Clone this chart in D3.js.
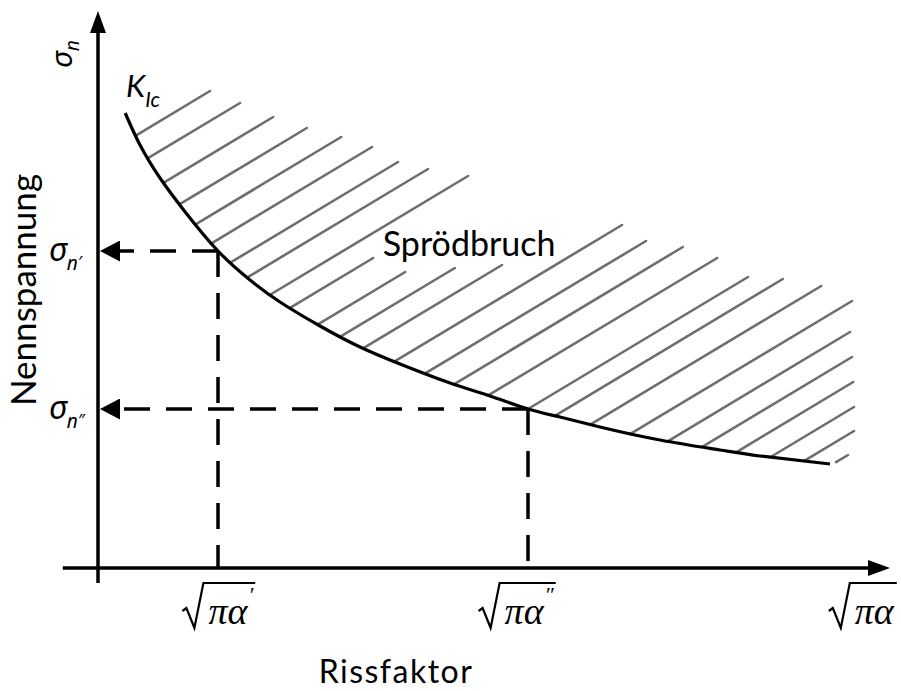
<!DOCTYPE html>
<html lang="de">
<head>
<meta charset="UTF-8">
<title>Sprödbruch – Nennspannung und Rissfaktor</title>
<style>
    body { margin: 0; background: #fff; }
    svg { display: block; }
    .lbl { font-family: Lato, "Open Sans", sans-serif; fill: #000; }
    .greek { font-family: "Noto Sans", "DejaVu Sans", sans-serif; font-style: italic; fill: #000; }
    .math { font-family: "Liberation Serif", "DejaVu Serif", serif; font-style: italic; fill: #000; }
</style>
</head>
<body>
<svg id="chart" width="901" height="691"></svg>

<script src="https://d3js.org/d3.v7.min.js"></script>
<script>
    // K_Ic curve (x = sqrt(pi a), y = sigma_n, arbitrary units)
    const curveX = [3.4, 5.25, 7.75, 10.9, 15, 19, 22.75, 27.75, 32.75, 37.75, 44, 49, 53.75, 57.75, 62.75, 70.25, 77.75, 82.75, 91.5];
    const curveY = [91, 84.6, 78, 71.2, 63.4, 57.6, 53.2, 48.4, 44.2, 40.8, 37, 34.4, 31.8, 30.2, 28.2, 25.6, 23.6, 22.4, 20.8];

    // two read-off points on the curve
    const critX = [15, 53.75];
    const critY = [63.4, 31.8];
    const critPrimes = ["′", "″"];

    // labels under the x axis
    const xLabelX = [15.1, 52.4, 95.6];
    const xLabelPrimes = ["′", "″", ""];

    // upper ends of the hatch lines (the lower end sits on the curve)
    const hatchEndX = [14, 17.75, 21.9, 26.1, 30.4, 34.25, 37.5, 41.25, 46.25, 34.4, 38.4, 44.6, 50.5,
                       65.5, 68.5, 73.1, 77.4, 81.25, 85.6, 90.4, 94.25, 94, 94.25, 94.4, 94.5, 94.5, 93.75];
    const hatchEndY = [95.4, 93, 90.2, 88, 86.2, 84.2, 81.2, 79.8, 78.4, 62, 59.2, 60, 60.6,
                       68.6, 65.4, 64.2, 62, 58.2, 57.8, 56.4, 53.4, 47.2, 42.2, 37.2, 32.2, 27.4, 22.6];

    const xAxisExtent = [-4.4, 99];
    const yAxisExtent = [-3, 111.4];

    const svg = d3.select("#chart");
    const x = d3.scaleLinear().domain([0, 100]).range([98, 898]);
    const y = d3.scaleLinear().domain([0, 100]).range([568, 68]);

    // arrow heads
    const defs = svg.append("defs");
    defs.append("marker")
        .attr("id", "axisArrow")
        .attr("viewBox", "0 0 22 16")
        .attr("refX", 0).attr("refY", 8)
        .attr("markerWidth", 22).attr("markerHeight", 16)
        .attr("markerUnits", "userSpaceOnUse")
        .attr("orient", "auto")
        .append("path").attr("d", "M0,0L22,8L0,16Z").attr("fill", "#000");
    defs.append("marker")
        .attr("id", "dashArrow")
        .attr("viewBox", "0 0 20 21")
        .attr("refX", 0).attr("refY", 10.5)
        .attr("markerWidth", 20).attr("markerHeight", 21)
        .attr("markerUnits", "userSpaceOnUse")
        .attr("orient", "auto")
        .append("path").attr("d", "M0,0L20,10.5L0,21Z").attr("fill", "#000");

    const hatchLayer = svg.append("g");

    const line = d3.line().x(d => x(d[0])).y(d => y(d[1])).curve(d3.curveNatural);
    const curvePts = curveX.map((d, i) => [d, curveY[i]]);

    const curvePath = svg.append("path")
        .attr("d", line(curvePts))
        .attr("fill", "none")
        .attr("stroke", "#000")
        .attr("stroke-width", 3.2);

    // sample the drawn curve so the hatch lines start exactly on it
    const node = curvePath.node();
    const total = node.getTotalLength();
    const samples = d3.range(0, total, 0.5).map(l => node.getPointAtLength(l));
    const slope = 0.6;   // hatch direction in screen space
    const hatch = hatchEndX.map((d, i) => {
        const ex = x(d), ey = y(hatchEndY[i]);
        const b = ey + slope * ex;
        let start = null;
        for (let k = 1; k < samples.length; k++) {
            const g0 = samples[k - 1].y + slope * samples[k - 1].x - b;
            const g1 = samples[k].y + slope * samples[k].x - b;
            if (g0 <= 0 && g1 >= 0) {
                const t = g0 === g1 ? 0 : -g0 / (g1 - g0);
                start = [samples[k - 1].x + t * (samples[k].x - samples[k - 1].x),
                         samples[k - 1].y + t * (samples[k].y - samples[k - 1].y)];
                break;
            }
        }
        if (!start) {
            const sx = x(curveX[curveX.length - 1]) + 6;
            start = [sx, b - slope * sx];
        }
        return { x1: start[0], y1: start[1], x2: ex, y2: ey };
    });

    hatchLayer.selectAll("line")
        .data(hatch)
        .join("line")
        .attr("x1", d => d.x1).attr("y1", d => d.y1)
        .attr("x2", d => d.x2).attr("y2", d => d.y2)
        .attr("stroke", "#6e6e6e")
        .attr("stroke-width", 2.6)
        .attr("stroke-linecap", "round");

    // axes with arrows
    svg.append("line")
        .attr("x1", x(xAxisExtent[0])).attr("y1", y(0))
        .attr("x2", x(xAxisExtent[1]) - 22).attr("y2", y(0))
        .attr("stroke", "#000").attr("stroke-width", 3.5)
        .attr("marker-end", "url(#axisArrow)");
    svg.append("line")
        .attr("x1", x(0)).attr("y1", y(yAxisExtent[0]))
        .attr("x2", x(0)).attr("y2", y(yAxisExtent[1]) + 22)
        .attr("stroke", "#000").attr("stroke-width", 3.5)
        .attr("marker-end", "url(#axisArrow)");

    // dashed read-off lines
    critX.forEach((cx, i) => {
        svg.append("line")
            .attr("x1", x(cx)).attr("y1", y(critY[i]))
            .attr("x2", x(0) + 22).attr("y2", y(critY[i]))
            .attr("stroke", "#000").attr("stroke-width", 3.5)
            .attr("stroke-dasharray", "26,16")
            .attr("marker-end", "url(#dashArrow)");
        svg.append("line")
            .attr("x1", x(cx)).attr("y1", y(critY[i]))
            .attr("x2", x(cx)).attr("y2", y(0))
            .attr("stroke", "#000").attr("stroke-width", 3.5)
            .attr("stroke-dasharray", "26,16");
    });

    // sigma labels at the left
    critY.forEach((v, i) => {
        const t = svg.append("text").attr("class", "greek")
            .attr("x", 49).attr("y", y(v) + 10);
        t.append("tspan").attr("font-size", 32).text("σ");
        t.append("tspan").attr("font-size", 19).attr("dy", 9).text("n");
        t.append("tspan").attr("font-size", 17).attr("dy", -2).text(critPrimes[i]);
    });

    // sigma_n at the top of the y axis
    const ys = svg.append("text").attr("class", "greek")
        .attr("transform", `translate(72,${y(100)})rotate(-90)`);
    ys.append("tspan").attr("font-size", 30).text("σ");
    ys.append("tspan").attr("font-size", 19).attr("dy", 7).text("n");

    // K_Ic
    const k = svg.append("text").attr("class", "lbl").attr("font-style", "italic")
        .attr("x", x(3.5)).attr("y", y(94.2));
    k.append("tspan").attr("font-size", 31).text("K");
    k.append("tspan").attr("font-size", 21).attr("dy", 10).text("Ic");

    // square-root labels under the x axis
    const barTop = y(0) + 15;
    xLabelX.forEach((v, i) => {
        const g = svg.append("g");
        const t = g.append("text").attr("class", "math")
            .attr("y", barTop + 41).attr("font-size", 38);
        t.append("tspan").text("πα");
        if (xLabelPrimes[i]) {
            t.append("tspan").attr("font-size", 22).attr("dx", 1).attr("dy", -22).text(xLabelPrimes[i]);
        }
        const tw = t.node().getComputedTextLength();
        const barW = tw + 8;
        const bx = x(v) - (21 + barW) / 2 + 21;
        t.attr("x", bx + 5);
        g.append("path")
            .attr("d", `M${bx - 21},${barTop + 28}L${bx - 17},${barTop + 25}L${bx - 9},${barTop + 45}L${bx},${barTop}H${bx + barW}`)
            .attr("fill", "none").attr("stroke", "#000").attr("stroke-width", 2.2)
            .attr("stroke-linejoin", "miter");
    });

    // titles
    svg.append("text").attr("class", "lbl")
        .attr("x", x(35.6)).attr("y", y(62.4))
        .attr("font-size", 34)
        .text("Sprödbruch");
    svg.append("text").attr("class", "lbl")
        .attr("transform", "translate(36,290)rotate(-90)")
        .attr("text-anchor", "middle")
        .attr("font-size", 35)
        .text("Nennspannung");
    svg.append("text").attr("class", "lbl")
        .attr("x", 396).attr("y", 683)
        .attr("text-anchor", "middle")
        .attr("font-size", 32)
        .attr("letter-spacing", 1.5)
        .text("Rissfaktor");
</script>
</body>
</html>
